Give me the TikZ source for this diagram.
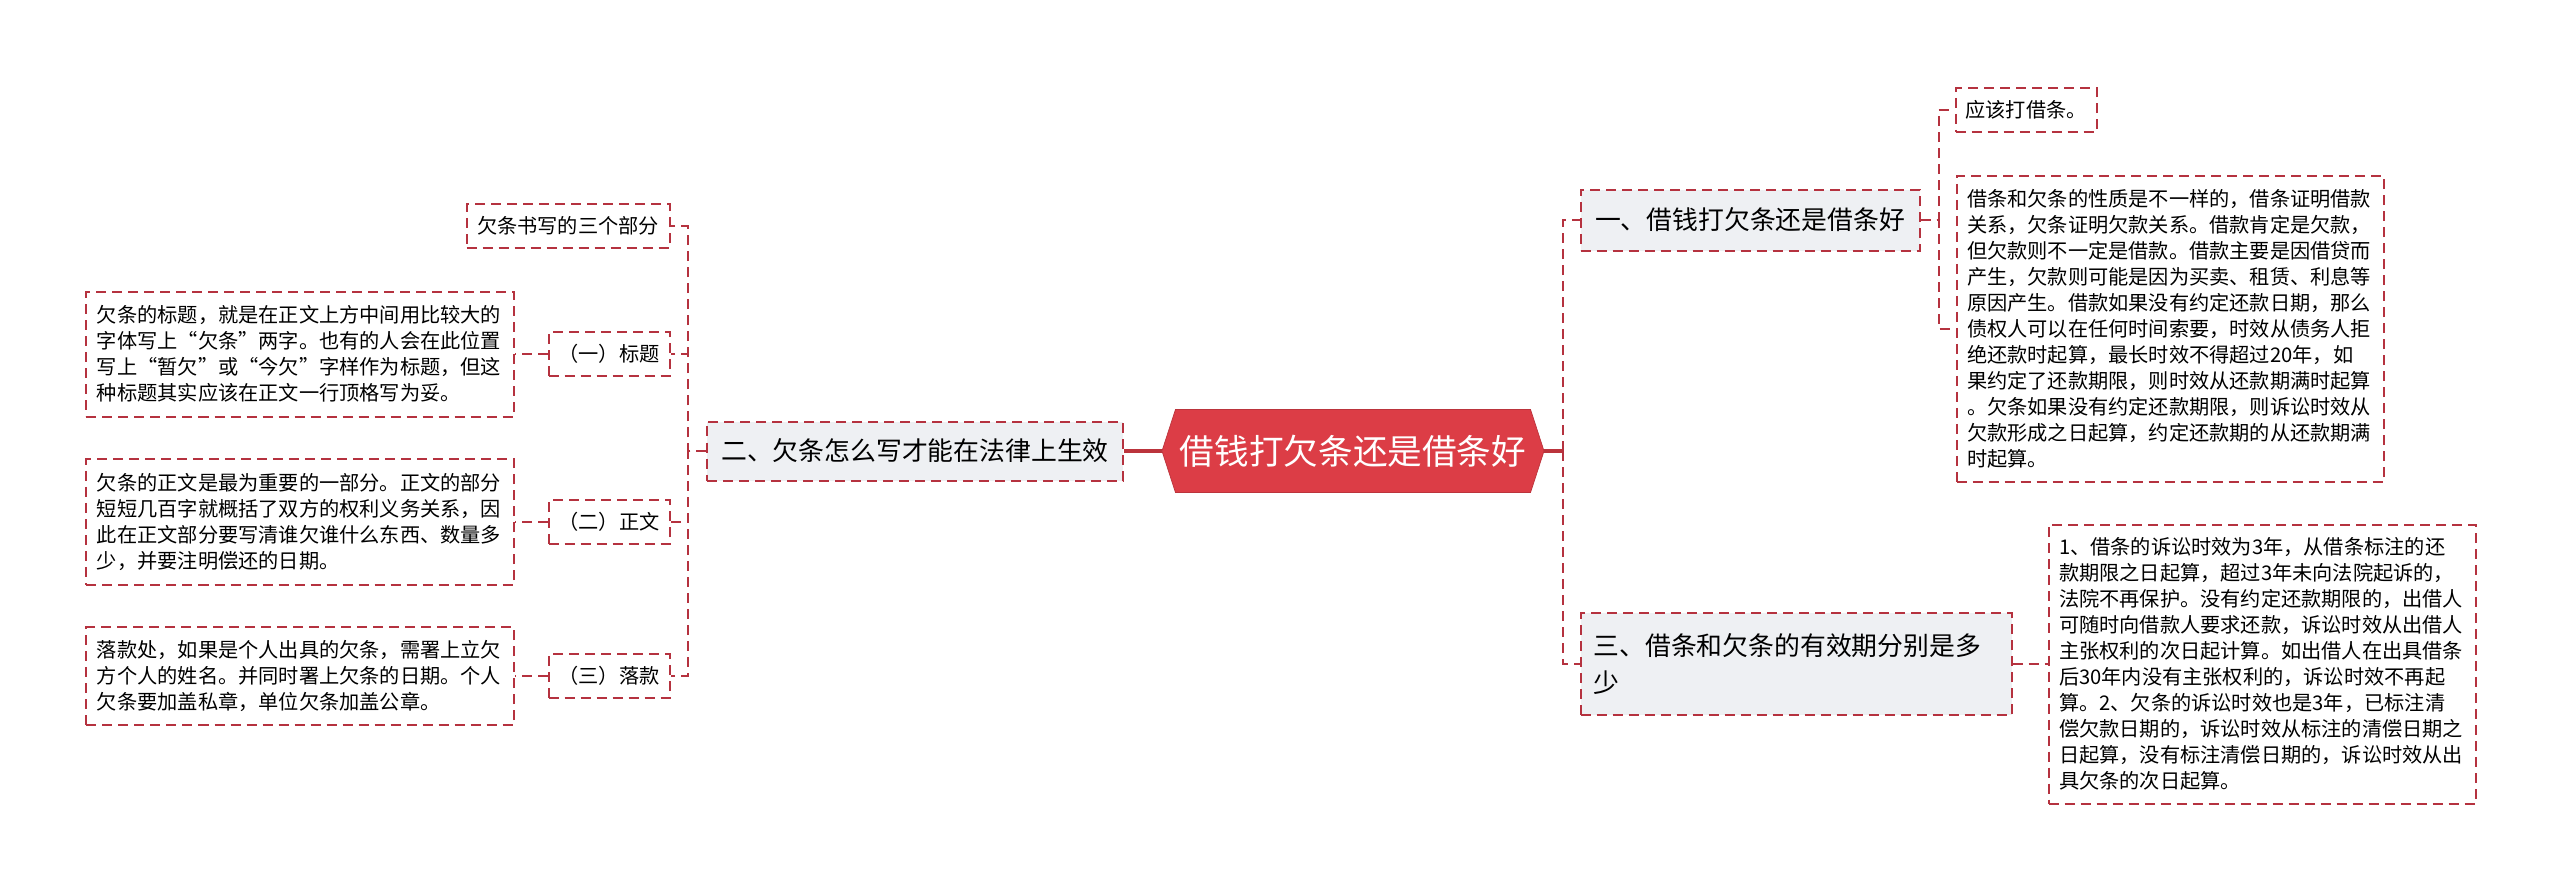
\documentclass[tikz,border=0pt]{standalone}
\usepackage{fontspec}
\setmainfont{Noto Sans CJK SC}
\usepackage{xcolor}
\usepackage{tikz}
\usetikzlibrary{
  positioning,
  shapes.geometric,
  shapes.symbols,
  shapes.misc
}
\definecolor{rootred}{HTML}{DC3D46}
\definecolor{linkred}{HTML}{B5323F}
\definecolor{topicgray}{HTML}{EEF0F3}
\tikzset{
  dashbox/.style={draw=linkred,line width=0.4mm,dash pattern=on 2mm off 1.2mm},
  link/.style={draw=linkred,line width=0.4mm,dash pattern=on 2mm off 1.2mm},
  trunk/.style={draw=rootred!85!black,line width=0.8mm},
  rootnode/.style={signal,signal to=west and east,signal pointer angle=144,fill=rootred,draw=rootred!85!black,text=white,minimum width=76.4mm,minimum height=16.6mm,inner sep=0pt,font=\fontsize{19.7}{24}\selectfont},
  topic/.style={dashbox,fill=topicgray,align=left,inner xsep=2.6mm,inner ysep=0pt,font=\fontsize{14.7}{21.3}\selectfont},
  tag/.style={dashbox,fill=white,inner sep=0pt,minimum height=8.8mm,font=\fontsize{11.5}{14.8}\selectfont},
  note/.style={dashbox,fill=white,align=left,text width=81.2mm,inner xsep=2.1mm,inner ysep=0pt,font=\fontsize{11.5}{14.8}\selectfont}
}

\begin{document}
\begin{tikzpicture}[x=0.2mm,y=-0.2mm]
    \useasboundingbox (0,0) rectangle (2560,893);

    \node[rootnode] (root) at (1353,451) {借钱打欠条还是借条好};

    % left branch
    \node[topic,minimum width=83.2mm,minimum height=11.8mm] (s2) at (915,451) {二、欠条怎么写才能在法律上生效};
    \node[tag,minimum width=40.6mm] (c0) at (568,226) {欠条书写的三个部分};
    \node[tag,minimum width=24.2mm] (c1) at (609,354) {（一）标题};
    \node[tag,minimum width=24.2mm] (c2) at (609,522) {（二）正文};
    \node[tag,minimum width=24.2mm] (c3) at (609,676) {（三）落款};
    \node[note,minimum height=25mm] (t1) at (300,354) {欠条的标题，就是在正文上方中间用比较大的\\字体写上“欠条”两字。也有的人会在此位置\\写上“暂欠”或“今欠”字样作为标题，但这\\种标题其实应该在正文一行顶格写为妥。};
    \node[note,minimum height=25.2mm] (t2) at (300,522) {欠条的正文是最为重要的一部分。正文的部分\\短短几百字就概括了双方的权利义务关系，因\\此在正文部分要写清谁欠谁什么东西、数量多\\少，并要注明偿还的日期。};
    \node[note,minimum height=19.6mm] (t3) at (300,676) {落款处，如果是个人出具的欠条，需署上立欠\\方个人的姓名。并同时署上欠条的日期。个人\\欠条要加盖私章，单位欠条加盖公章。};

    % right branch
    \node[topic,minimum width=67.8mm,minimum height=12.2mm] (s1) at (1750,220) {一、借钱打欠条还是借条好};
    \node[topic,text width=81mm,minimum height=20.4mm] (s3) at (1796,664) {三、借条和欠条的有效期分别是多\\少};
    \node[tag,minimum width=28.2mm] (r1) at (2026,110) {应该打借条。};
    \node[note,minimum height=61.2mm] (r2) at (2170,329) {借条和欠条的性质是不一样的，借条证明借款\\关系，欠条证明欠款关系。借款肯定是欠款，\\但欠款则不一定是借款。借款主要是因借贷而\\产生，欠款则可能是因为买卖、租赁、利息等\\原因产生。借款如果没有约定还款日期，那么\\债权人可以在任何时间索要，时效从债务人拒\\绝还款时起算，最长时效不得超过20年，如\\果约定了还款期限，则时效从还款期满时起算\\。欠条如果没有约定还款期限，则诉讼时效从\\欠款形成之日起算，约定还款期的从还款期满\\时起算。};
    \node[note,minimum height=55.8mm] (r3) at (2262,664) {1、借条的诉讼时效为3年，从借条标注的还\\款期限之日起算，超过3年未向法院起诉的，\\法院不再保护。没有约定还款期限的，出借人\\可随时向借款人要求还款，诉讼时效从出借人\\主张权利的次日起计算。如出借人在出具借条\\后30年内没有主张权利的，诉讼时效不再起\\算。2、欠条的诉讼时效也是3年，已标注清\\偿欠款日期的，诉讼时效从标注的清偿日期之\\日起算，没有标注清偿日期的，诉讼时效从出\\具欠条的次日起算。};

    % connectors
    \draw[trunk] (root.west) -- (s2.east);
    \foreach \c in {c0,c1,c2,c3}
        \draw[link] (s2.west) -- ++(-18,0) |- (\c.east);
    \foreach \c/\t in {c1/t1,c2/t2,c3/t3}
        \draw[link] (\c.west) -- (\t.east);
    \draw[trunk] (root.east) -- ++(19,0) coordinate (rbus);
    \foreach \s in {s1,s3}
        \draw[link] (rbus) |- (\s.west);
    \foreach \r in {r1,r2}
        \draw[link] (s1.east) -- ++(18,0) |- (\r.west);
    \draw[link] (s3.east) -- (r3.west);
\end{tikzpicture}
\end{document}
